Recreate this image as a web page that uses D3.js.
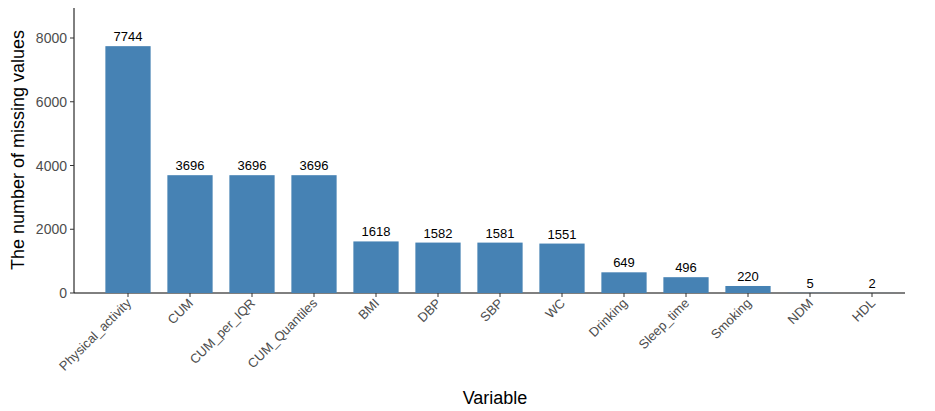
<!DOCTYPE html><html><head><meta charset="utf-8"><script src="https://cdn.jsdelivr.net/npm/d3@7"></script>
<style>body{margin:0;background:#fff}text{font-family:"Liberation Sans",Arial,sans-serif}</style></head><body><svg id="c" width="935" height="411"></svg>
<script>
const categories=["Physical_activity","CUM","CUM_per_IQR","CUM_Quantiles","BMI","DBP","SBP","WC","Drinking","Sleep_time","Smoking","NDM","HDL"];
const values=[7744,3696,3696,3696,1618,1582,1581,1551,649,496,220,5,2];
const yTicks=[0,2000,4000,6000,8000];
const svg=d3.select("#c");
const x=d3.scaleBand().domain(categories).range([97,903]).paddingInner(0.27).paddingOuter(0.135);
const y=d3.scaleLinear().domain([0,8000]).range([293,38]);
svg.append("line").attr("x1",74).attr("x2",74).attr("y1",8).attr("y2",293).attr("stroke","#000");
svg.append("line").attr("x1",74).attr("x2",905).attr("y1",293).attr("y2",293).attr("stroke","#000");
svg.selectAll("rect").data(values).join("rect").attr("x",(d,i)=>x(categories[i])).attr("width",x.bandwidth())
 .attr("y",d=>y(d)).attr("height",d=>293-y(d)).attr("fill","#4682B4");
svg.selectAll(".v").data(values).join("text").attr("x",(d,i)=>x(categories[i])+x.bandwidth()/2).attr("y",d=>y(d)-5)
 .attr("text-anchor","middle").attr("font-size",13).text(d=>d);
yTicks.forEach(t=>{svg.append("line").attr("x1",70).attr("x2",74).attr("y1",y(t)).attr("y2",y(t)).attr("stroke","#333");
 svg.append("text").attr("x",67).attr("y",y(t)+5).attr("text-anchor","end").attr("font-size",14).attr("fill","#4d4d4d").text(t);});
categories.forEach(c=>{const cx=x(c)+x.bandwidth()/2;
 svg.append("line").attr("x1",cx).attr("x2",cx).attr("y1",293).attr("y2",297).attr("stroke","#333");
 svg.append("text").attr("transform",`translate(${cx+4},${304}) rotate(-45)`).attr("text-anchor","end").attr("font-size",13).attr("fill","#4d4d4d").text(c);});
svg.append("text").attr("x",495).attr("y",404).attr("text-anchor","middle").attr("font-size",18).text("Variable");
svg.append("text").attr("transform","translate(24,150) rotate(-90)").attr("text-anchor","middle").attr("font-size",18).text("The number of missing values");
</script></body></html>
